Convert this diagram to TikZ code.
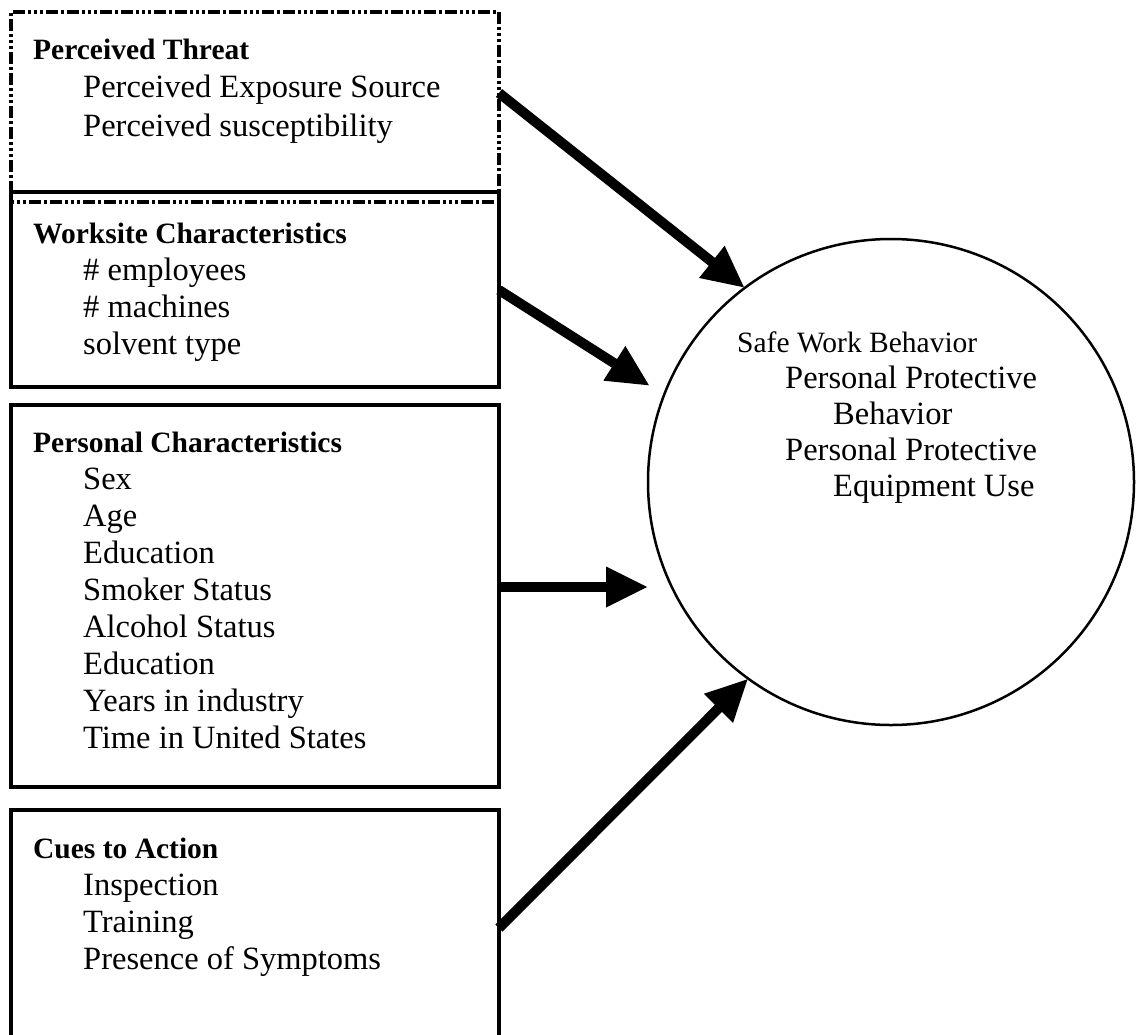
\documentclass[tikz,border=0pt]{standalone}
\usepackage{fontspec}
\setmainfont{Liberation Serif}
\usetikzlibrary{arrows.meta}

\tikzset{
  box/.style={draw, line width=4pt, anchor=north west, inner sep=0pt, outer sep=0pt, minimum width=488pt},
  boxtext/.style={anchor=north west, align=left, inner sep=0pt, font=\fontsize{32.5}{37}\selectfont},
  arr/.style={line width=10pt, -{Triangle[length=42pt,width=38pt]}},
}
\newcommand{\hd}[1]{{\fontsize{29.5}{37}\selectfont\bfseries #1}}
\newcommand{\ind}{\hspace*{50pt}}

\begin{document}
\begin{tikzpicture}[x=1pt,y=-1pt]
\useasboundingbox (0,0) rectangle (1141,1034);
\clip (0,0) rectangle (1141,1034);

% Perceived threat
\node[box, line width=3.5pt, minimum height=190pt,
  dash pattern=on 3pt off 3pt on 3pt off 3pt on 3pt off 3pt on 12pt off 3pt on 3pt off 3pt on 12pt off 3pt] (threat) at (11,12) {};
\node[boxtext, font=\fontsize{32.5}{38.5}\selectfont] (threattxt) at (33,38.5)
  {\hd{Perceived Threat}\\ \ind Perceived Exposure Source\\ \ind Perceived susceptibility};

% Worksite
\node[box, minimum height=195pt] (worksite) at (11,192) {};
\node[boxtext] (worksitetxt) at (33,223)
  {\hd{Worksite Characteristics}\\ \ind \# employees\\ \ind \# machines\\ \ind solvent type};

% Personal
\node[box, minimum height=382pt] (personal) at (11,405) {};
\node[boxtext] (personaltxt) at (33,432)
  {\hd{Personal Characteristics}\\ \ind Sex\\ \ind Age\\ \ind Education\\ \ind Smoker Status\\
   \ind Alcohol Status\\ \ind Education\\ \ind Years in industry\\ \ind Time in United States};

% Cues
\node[box, minimum height=240pt] (cues) at (11,810) {};
\node[boxtext] (cuestxt) at (33,838)
  {\hd{Cues to Action}\\ \ind Inspection\\ \ind Training\\ \ind Presence of Symptoms};

% Outcome
\node[draw, circle, line width=2.5pt, minimum size=486pt, inner sep=0pt, outer sep=0pt] (safe) at (891,482) {};
\node[boxtext, font=\fontsize{32.5}{36}\selectfont] (safetxt) at (737,332)
  {{\fontsize{29.5}{36}\selectfont Safe Work Behavior}\\
   \hspace*{48pt}Personal Protective\\ \hspace*{96pt}Behavior\\
   \hspace*{48pt}Personal Protective\\ \hspace*{96pt}Equipment Use};

% Arrows
\coordinate (t1) at ([yshift=-81pt]threat.north east);
\coordinate (t2) at ([yshift=-98pt]worksite.north east);
\coordinate (t3) at ([yshift=-182pt]personal.north east);
\coordinate (t4) at ([yshift=-118pt]cues.north east);
\draw[arr] (t1) -- (safe.127);
\draw[arr, shorten >=17pt] (t2) -- (safe.159);
\draw[arr] (t3) -- (t3 -| safe.west);
\draw[arr] (t4) -- (safe.234);
\end{tikzpicture}
\end{document}
